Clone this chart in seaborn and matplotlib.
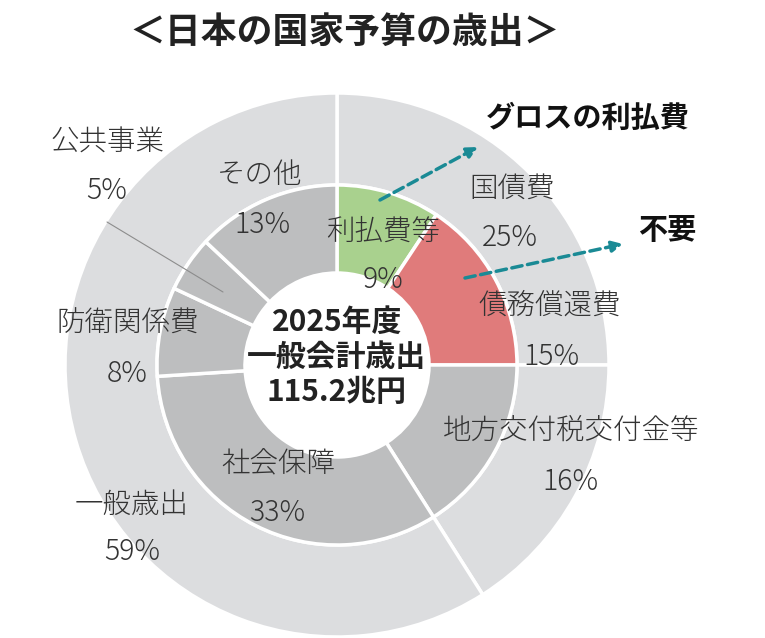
import matplotlib
matplotlib.use("Agg")
import matplotlib.pyplot as plt
import seaborn as sns

# outer ring: 国債費 / 地方交付税交付金等 / 一般歳出
outer_names = ['国債費', '地方交付税交付金等', '一般歳出']
outer_values = [25, 16, 59]
outer_labels = ['25%', '16%', '59%']

# inner ring (clockwise from top)
inner_names = ['利払費等', '債務償還費', '地方交付税交付金等', '社会保障', '防衛関係費', '公共事業', 'その他']
inner_values = [9.3, 15.7, 16, 33, 8, 5, 13]
inner_labels = ['9%', '15%', '16%', '33%', '8%', '5%', '13%']

center_lines = ['2025年度', '一般会計歳出', '115.2兆円']
title = '＜日本の国家予算の歳出＞'
note_gross = 'グロスの利払費'
note_none = '不要'

sns.set_theme(style='white')
plt.rcParams['font.family'] = ['Noto Sans CJK JP', 'DejaVu Sans']

W, H = 765, 638
fig = plt.figure(figsize=(W / 100, H / 100), dpi=100)
ax = fig.add_axes([0, 0, 1, 1])

def py(y):
    # pixel row -> data y
    return H - y

cx, cy = 337, py(365)
r_out, r_mid, r_hole = 272, 180, 92

light = '#dcdddf'
mid = '#bdbebf'
green = '#a9d18e'
red = '#e07b7b'
teal = '#1a8a95'
txt = '#333333'

outer_colors = [light] * len(outer_values)
inner_colors = [green, red] + [mid] * 5

ax.pie(outer_values, radius=r_out, center=(cx, cy), startangle=90, counterclock=False,
       colors=outer_colors, wedgeprops=dict(width=r_out - r_mid, edgecolor='white', linewidth=2.5))
ax.pie(inner_values, radius=r_mid, center=(cx, cy), startangle=90, counterclock=False,
       colors=inner_colors, wedgeprops=dict(width=r_mid - r_hole, edgecolor='white', linewidth=2.5))

ax.set_xlim(0, W)
ax.set_ylim(0, H)
ax.set_aspect('equal')
ax.axis('off')

# label layout (pixel centres of name / percentage)
outer_pos = [(512, 188, 510, 238), (571, 430, 570, 482), (132, 505, 132, 552)]
inner_pos = [(383, 231, 383, 280), (550, 305, 551, 357), None,
             (278, 464, 277, 513), (128, 323, 127, 374), (107, 142, 107, 191), (260, 175, 262, 225)]

lab_kw = dict(ha='center', va='center', fontsize=20.5, color=txt, fontweight='light')
for name, lab, pos in zip(outer_names, outer_labels, outer_pos):
    ax.text(pos[0], py(pos[1]), name, **lab_kw)
    ax.text(pos[2], py(pos[3]), lab, **lab_kw)
for name, lab, pos in zip(inner_names, inner_labels, inner_pos):
    if pos is None:
        continue
    ax.text(pos[0], py(pos[1]), name, **lab_kw)
    ax.text(pos[2], py(pos[3]), lab, **lab_kw)

# leader line for 公共事業
ax.plot([107, 223], [py(222), py(292)], color='#8c8c8c', lw=0.8)

# centre text
for line, y in zip(center_lines, [322, 357, 392]):
    ax.text(cx, py(y), line, ha='center', va='center', fontsize=21.5, fontweight='bold', color='#222222')

# title
ax.text(345, py(32), title, ha='center', va='center', fontsize=25.8, fontweight='bold', color='#222222')

# notes with dashed arrows
ax.text(588, py(118), note_gross, ha='center', va='center', fontsize=21, fontweight='bold', color='#111111')
ax.text(667, py(230), note_none, ha='center', va='center', fontsize=21, fontweight='bold', color='#111111')
arrow_kw = dict(arrowstyle='-|>', color=teal, lw=2.5, linestyle=(0, (3, 1.6)), mutation_scale=16, shrinkA=0, shrinkB=0)
ax.annotate('', xy=(478, py(147)), xytext=(380, py(200)), arrowprops=arrow_kw)
ax.annotate('', xy=(623, py(244)), xytext=(465, py(278)), arrowprops=arrow_kw)

fig.savefig('out.png', dpi=100, facecolor='white')
